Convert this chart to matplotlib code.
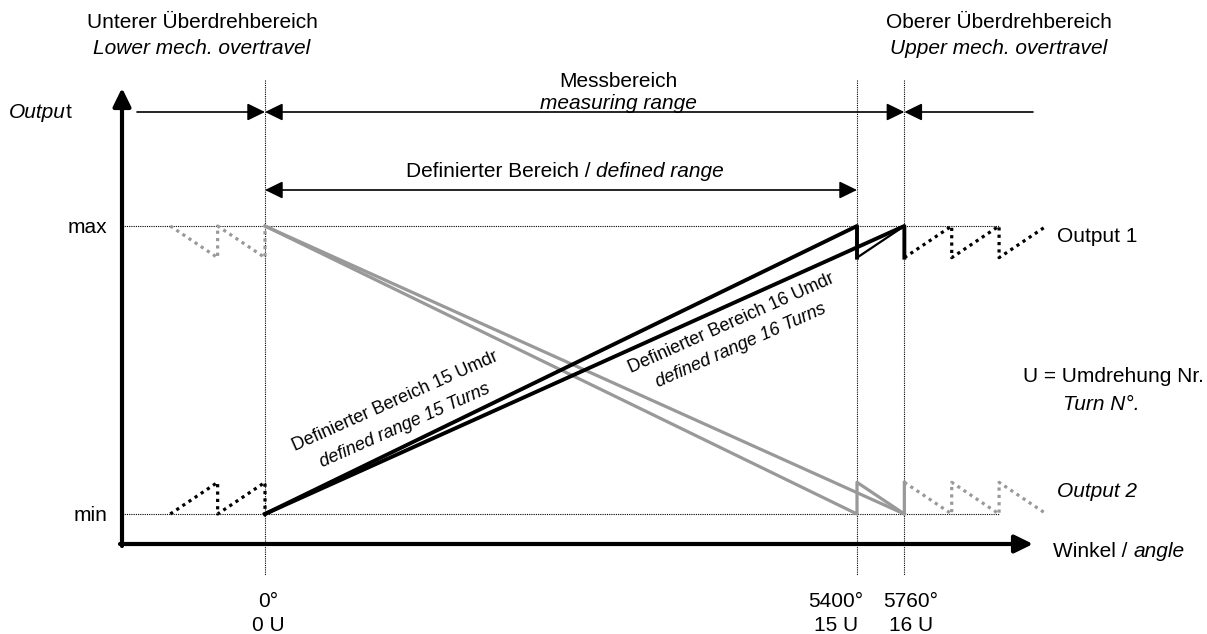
import numpy as np
import matplotlib.pyplot as plt

plt.rcParams['font.family'] = ['Liberation Sans', 'DejaVu Sans']

# schematic angle axis, in turns (16 U drawn a bit wider than to scale)
tick_pos = [0, 15, 16.2]
tick_deg = ['0°', '5400°', '5760°']
tick_turn = ['0 U', '15 U', '16 U']

# output 1 (black), rising
out1_15_x = [0, 15, 15]
out1_15_y = [0, 1, 0.89]
out1_15_wrap_x = [15, 16.2]
out1_15_wrap_y = [0.89, 1]
out1_16_x = [0, 16.2, 16.2]
out1_16_y = [0, 1, 0.89]
out1_low_x = [-2.4, -1.2, -1.2, 0, 0]
out1_low_y = [0, 0.11, 0, 0.11, 0]
out1_up_x = [16.2, 17.4, 17.4, 18.6, 18.6, 19.8]
out1_up_y = [0.89, 1, 0.89, 1, 0.89, 1]

# output 2 (grey), falling
out2_15_x = [0, 15, 15, 16.2]
out2_15_y = [1, 0, 0.11, 0]
out2_16_x = [0, 16.2, 16.2]
out2_16_y = [1, 0, 0.11]
out2_low_x = [-2.4, -1.2, -1.2, 0, 0]
out2_low_y = [1, 0.89, 1, 0.89, 1]
out2_up_x = [16.2, 17.4, 17.4, 18.6, 18.6, 19.8]
out2_up_y = [0.11, 0, 0.11, 0, 0.11, 0]

K = 592 / 15
def X(px):
    return (px - 265) / K
def Y(py):
    return (514 - py) / 288

fig = plt.figure(figsize=(12.07, 6.34), dpi=100)
ax = fig.add_axes([0, 0, 1, 1])
ax.set_xlim(X(0), X(1207))
ax.set_ylim(Y(634), Y(0))
ax.axis('off')

grey = '#999999'
dots = (0, (1, 1.3))
fine = (0, (1, 1))

# reference lines
for lvl in [0, 1]:
    ax.plot([X(122), 18.6], [lvl, lvl], color='black', lw=0.8, ls=fine)
for p in tick_pos:
    ax.plot([p, p], [Y(80), Y(575)], color='black', lw=0.8, ls=fine)

# curves
ax.plot(out2_15_x, out2_15_y, color=grey, lw=2.3)
ax.plot(out2_16_x, out2_16_y, color=grey, lw=2.3)
ax.plot(out2_low_x, out2_low_y, color=grey, lw=2.3, ls=dots)
ax.plot(out2_up_x, out2_up_y, color=grey, lw=2.3, ls=dots)
ax.plot(out1_15_x, out1_15_y, color='black', lw=2.8)
ax.plot(out1_15_wrap_x, out1_15_wrap_y, color='black', lw=1.6)
ax.plot(out1_16_x, out1_16_y, color='black', lw=2.8)
ax.plot(out1_low_x, out1_low_y, color='black', lw=2.3, ls=dots)
ax.plot(out1_up_x, out1_up_y, color='black', lw=2.3, ls=dots)

# axes arrows
def arrow(x0, y0, x1, y1, style, lw, ms):
    ax.annotate('', xy=(x1, y1), xytext=(x0, y0),
                arrowprops=dict(arrowstyle=style, lw=lw, color='black',
                                shrinkA=0, shrinkB=0, mutation_scale=ms))

arrow(X(122), Y(546), X(122), Y(88), '-|>,head_length=0.55,head_width=0.27', 3, 20)
arrow(X(120), Y(544), X(1033), Y(544), '-|>,head_length=0.55,head_width=0.27', 3, 20)

row1 = Y(112)
row2 = Y(190)
hs = '-|>,head_length=0.45,head_width=0.22'
ds = '<|-|>,head_length=0.45,head_width=0.22'
arrow(X(137), row1, 0, row1, hs, 1.2, 24)
arrow(0, row1, tick_pos[2], row1, ds, 1.2, 24)
arrow(X(1033), row1, tick_pos[2], row1, hs, 1.2, 24)
arrow(0, row2, tick_pos[1], row2, ds, 1.2, 24)

# text
FS = 15
def txt(xp, yp, s, ha='center', style='normal', size=FS, **kw):
    ax.text(X(xp), Y(yp), s, ha=ha, va='baseline', fontsize=size,
            fontstyle=style, **kw)

def mixed(xp, yp, parts, ha='left', size=FS, gap=True):
    r = fig.canvas.get_renderer()
    sp = 0.278 * size * 100 / 72 if gap else 0
    objs = [ax.text(0, 0, s, fontsize=size, fontstyle=st, va='baseline', ha='left')
            for s, st in parts]
    ws = [o.get_window_extent(r).width for o in objs]
    total = sum(ws) + sp * (len(ws) - 1)
    x0 = xp - {'left': 0, 'center': total / 2, 'right': total}[ha]
    for o, w in zip(objs, ws):
        o.set_position((X(x0), Y(yp)))
        x0 += w + sp

txt(202, 28, 'Unterer Überdrehbereich')
txt(202, 54, 'Lower mech. overtravel', style='italic')
txt(999, 28, 'Oberer Überdrehbereich')
txt(999, 54, 'Upper mech. overtravel', style='italic')
txt(618, 87, 'Messbereich')
txt(618, 109, 'measuring range', style='italic')
mixed(565, 177, [('Definierter Bereich /', 'normal'), ('defined range', 'italic')], ha='center')
mixed(72, 118, [('Outpu', 'italic'), ('t', 'normal')], ha='right', gap=False)

txt(107, 233, 'max', ha='right')
txt(107, 521, 'min', ha='right')
txt(1057, 242, 'Output 1', ha='left')
txt(1057, 497, 'Output 2', ha='left', style='italic')
txt(1113, 382, 'U = Umdrehung Nr.')
txt(1101, 410, 'Turn N°.', style='italic')
mixed(1053, 557, [('Winkel /', 'normal'), ('angle', 'italic')])

for cx, d, u in zip([268, 836, 911], tick_deg, tick_turn):
    txt(cx, 607, d)
    txt(cx, 631, u)

# labels along the lines
rot = 24
ax.text(X(397), Y(406), 'Definierter Bereich 15 Umdr', fontsize=13, rotation=rot,
        rotation_mode='anchor', ha='center', va='baseline')
ax.text(X(407), Y(430), 'defined range 15 Turns', fontsize=13, rotation=rot,
        rotation_mode='anchor', ha='center', va='baseline', fontstyle='italic')
ax.text(X(733), Y(328), 'Definierter Bereich 16 Umdr', fontsize=13, rotation=rot,
        rotation_mode='anchor', ha='center', va='baseline')
ax.text(X(743), Y(350), 'defined range 16 Turns', fontsize=13, rotation=rot,
        rotation_mode='anchor', ha='center', va='baseline', fontstyle='italic')

fig.savefig('out.png', dpi=100)
